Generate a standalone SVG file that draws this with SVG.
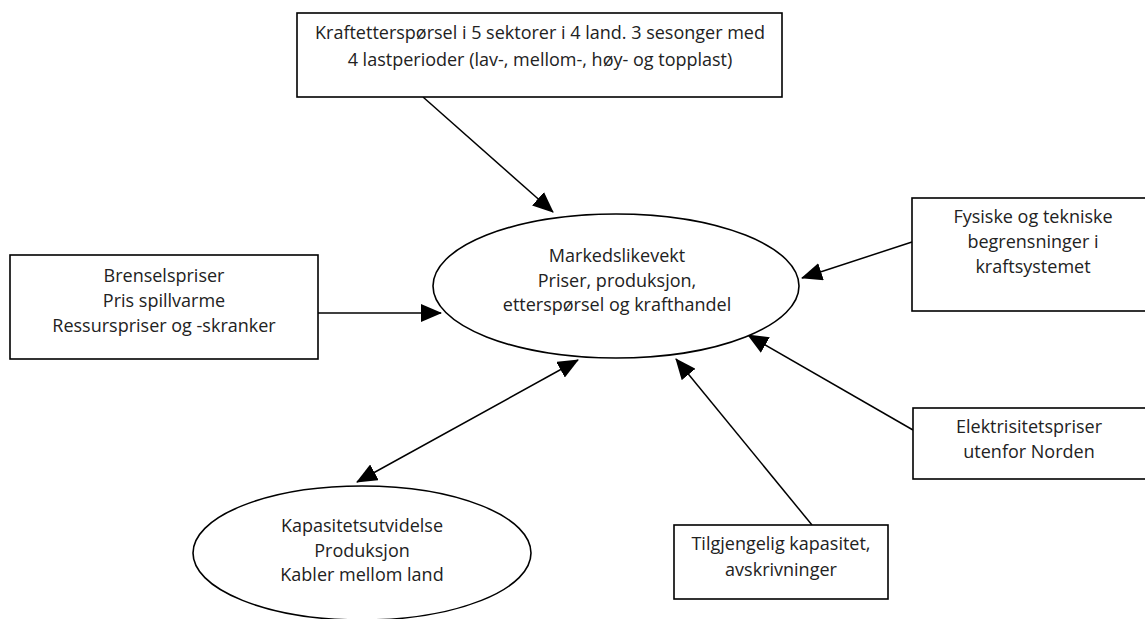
<svg xmlns="http://www.w3.org/2000/svg" width="1145" height="619" viewBox="0 0 1145 619">
<style>
.box{fill:#fff;stroke:#000;stroke-width:1.6}
.ell{fill:#fff;stroke:#000;stroke-width:1.6}
.t{font-family:"Open Sans","Noto Sans",sans-serif;font-size:18px;fill:#222;text-anchor:middle}
.c{stroke:#000;stroke-width:1.5;fill:none}
</style>
<defs>
<marker id="ah" markerUnits="userSpaceOnUse" markerWidth="22" markerHeight="18" refX="20" refY="9" orient="auto-start-reverse" viewBox="0 0 22 18">
<path d="M0,0 L21,9 L0,18 Z" fill="#000"/>
</marker>
</defs>
<rect width="1145" height="619" fill="#fff"/>
<g id="connectors">
<line class="c" x1="423" y1="97" x2="553" y2="212" marker-end="url(#ah)"/>
<line class="c" x1="318" y1="313" x2="441" y2="313" marker-end="url(#ah)"/>
<line class="c" x1="912" y1="242" x2="802" y2="278" marker-end="url(#ah)"/>
<line class="c" x1="913" y1="430" x2="748" y2="335" marker-end="url(#ah)"/>
<line class="c" x1="812" y1="525" x2="676" y2="359" marker-end="url(#ah)"/>
<line class="c" x1="357" y1="482" x2="578" y2="360" marker-start="url(#ah)" marker-end="url(#ah)"/>
</g>
<g id="n-top">
<rect class="box" x="297" y="13" width="485" height="84"/>
<text class="t" x="540" y="39">Kraftetterspørsel i 5 sektorer i 4 land. 3 sesonger med</text>
<text class="t" x="540" y="66">4 lastperioder (lav-, mellom-, høy- og topplast)</text>
</g>
<g id="n-market">
<ellipse class="ell" cx="616" cy="286" rx="183" ry="72"/>
<text class="t" x="617" y="262">Markedslikevekt</text>
<text class="t" x="617" y="287">Priser, produksjon,</text>
<text class="t" x="617" y="311">etterspørsel og krafthandel</text>
</g>
<g id="n-fuel">
<rect class="box" x="10" y="255" width="308" height="104"/>
<text class="t" x="164" y="282">Brenselspriser</text>
<text class="t" x="164" y="307">Pris spillvarme</text>
<text class="t" x="164" y="332">Ressurspriser og -skranker</text>
</g>
<g id="n-phys">
<rect class="box" x="912" y="198" width="240" height="113"/>
<text class="t" x="1033" y="223">Fysiske og tekniske</text>
<text class="t" x="1033" y="248">begrensninger i</text>
<text class="t" x="1033" y="273">kraftsystemet</text>
</g>
<g id="n-elec">
<rect class="box" x="913" y="408" width="240" height="71"/>
<text class="t" x="1029" y="433">Elektrisitetspriser</text>
<text class="t" x="1029" y="458">utenfor Norden</text>
</g>
<g id="n-avail">
<rect class="box" x="674" y="525" width="214" height="74"/>
<text class="t" x="781" y="550">Tilgjengelig kapasitet,</text>
<text class="t" x="781" y="576">avskrivninger</text>
</g>
<g id="n-cap">
<ellipse class="ell" cx="362" cy="553" rx="169" ry="67"/>
<text class="t" x="362" y="532">Kapasitetsutvidelse</text>
<text class="t" x="362" y="557">Produksjon</text>
<text class="t" x="362" y="581">Kabler mellom land</text>
</g>
</svg>
